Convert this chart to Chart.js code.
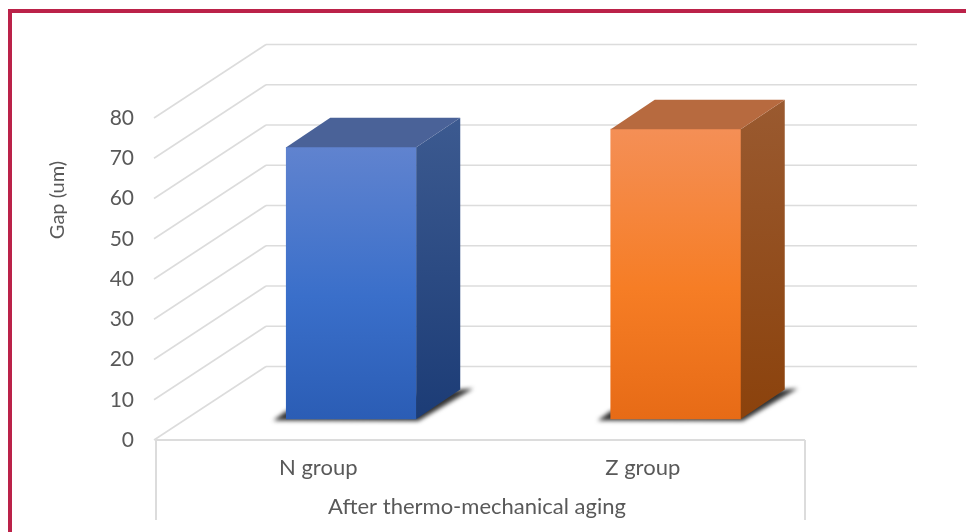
<!DOCTYPE html>
<html>
<head>
<meta charset="utf-8">
<title>Gap after thermo-mechanical aging</title>
<script src="https://cdn.jsdelivr.net/npm/chart.js@4"></script>
<style>
  html, body { margin: 0; background: #fff; overflow: hidden; }
  #wrap { position: relative; width: 966px; height: 532px; }
  #frame {
    position: absolute; left: 8px; top: 9px; right: 0; bottom: 0;
    border-left: 4px solid #bb2249; border-top: 4px solid #bb2249;
  }
  canvas { position: absolute; left: 0; top: 0; }
</style>
</head>
<body>
<div id="wrap">
  <div id="frame"></div>
  <canvas id="gapChart" width="966" height="532"></canvas>
</div>
<script>
const groups = ['N group', 'Z group'];
const gapValues = [67.5, 72];
const yTicks = [0, 10, 20, 30, 40, 50, 60, 70, 80];
const yTitle = 'Gap (um)';
const xTitle = 'After thermo-mechanical aging';

const FONT = 'Lato, sans-serif';
const TEXT = '#595959';
const GRID = '#dcdcdc';

// fake 3D: how far the back wall and the bars sit behind the axis plane
const WALL = { dx: 110, dy: -73.5, right: 917 };
const BAR_OFFSET = { dx: 33, dy: -21 };
const BAR_DEPTH = { dx: 44, dy: -29.5 };

const faces = [
  {
    front: ['#6083cf', '#3a6fca', '#2b5db5'],
    side: ['#3c5a90', '#1c3c76'],
    top: '#4a6298'
  },
  {
    front: ['#f48f56', '#f67d25', '#e76b16'],
    side: ['#9a5a30', '#8b420c'],
    top: '#b76a3f'
  }
];

function poly(ctx, pts) {
  ctx.beginPath();
  pts.forEach((p, i) => i ? ctx.lineTo(p[0], p[1]) : ctx.moveTo(p[0], p[1]));
  ctx.closePath();
}

function line(ctx, x1, y1, x2, y2) {
  ctx.beginPath();
  ctx.moveTo(x1, y1);
  ctx.lineTo(x2, y2);
  ctx.stroke();
}

const room3d = {
  id: 'room3d',
  // walls, floor and axis box behind the bars
  beforeDatasetsDraw(chart) {
    const ctx = chart.ctx;
    const { y } = chart.scales;
    const left = chart.chartArea.left;
    const right = chart.chartArea.right;
    ctx.save();
    ctx.strokeStyle = GRID;
    ctx.lineWidth = 1.6;
    yTicks.forEach((t) => {
      const py = y.getPixelForValue(t);
      line(ctx, left - 2, py, left + WALL.dx, py + WALL.dy);
      line(ctx, left + WALL.dx, py + WALL.dy, WALL.right, py + WALL.dy);
    });
    const y0 = y.getPixelForValue(0);
    ctx.lineWidth = 2;
    line(ctx, left, y0, right, y0);
    line(ctx, left, y0, left, 520);
    line(ctx, right, y0, right, 520);

    // soft shadows on the floor
    const bars = chart.getDatasetMeta(0).data;
    ctx.filter = 'blur(2px)';
    ctx.fillStyle = '#333';
    bars.forEach((bar) => {
      const l = bar.x - bar.width / 2 + BAR_OFFSET.dx;
      const r = bar.x + bar.width / 2 + BAR_OFFSET.dx;
      const b = bar.base + BAR_OFFSET.dy;
      poly(ctx, [
        [l - 13, b + 1.5], [l, b - 8], [r + BAR_DEPTH.dx, b + BAR_DEPTH.dy],
        [r + BAR_DEPTH.dx + 13, b + BAR_DEPTH.dy - 1], [r + 2, b + 2]
      ]);
      ctx.fill();
    });
    ctx.restore();

    // axis titles sit off-centre, so they are placed by hand
    ctx.save();
    ctx.fillStyle = TEXT;
    ctx.textAlign = 'center';
    ctx.textBaseline = 'middle';
    ctx.font = '22px ' + FONT;
    ctx.fillText(xTitle, 477, 507);
    ctx.font = '20px ' + FONT;
    ctx.translate(58, 200);
    ctx.rotate(-Math.PI / 2);
    ctx.fillText(yTitle, 0, 0);
    ctx.restore();
  },
  beforeDatasetDraw(chart) {
    chart.ctx.save();
    chart.ctx.translate(BAR_OFFSET.dx, BAR_OFFSET.dy);
  },
  // top and side faces built from each bar element
  afterDatasetDraw(chart) {
    const ctx = chart.ctx;
    chart.getDatasetMeta(0).data.forEach((bar, i) => {
      const l = bar.x - bar.width / 2;
      const r = bar.x + bar.width / 2;
      const { dx, dy } = BAR_DEPTH;
      const side = ctx.createLinearGradient(0, bar.y + dy, 0, bar.base);
      side.addColorStop(0, faces[i].side[0]);
      side.addColorStop(1, faces[i].side[1]);
      ctx.fillStyle = side;
      poly(ctx, [[r, bar.y], [r + dx, bar.y + dy], [r + dx, bar.base + dy], [r, bar.base]]);
      ctx.fill();
      ctx.fillStyle = faces[i].top;
      poly(ctx, [[l, bar.y], [l + dx, bar.y + dy], [r + dx, bar.y + dy], [r, bar.y]]);
      ctx.fill();
    });
    ctx.restore();
  }
};

function frontFill(context) {
  const chart = context.chart;
  const y = chart.scales.y;
  if (!y || !chart.chartArea || context.dataIndex === undefined) return faces[0].front[1];
  const colors = faces[context.dataIndex].front;
  const grad = chart.ctx.createLinearGradient(0, y.getPixelForValue(gapValues[context.dataIndex]), 0, y.getPixelForValue(0));
  grad.addColorStop(0, colors[0]);
  grad.addColorStop(0.55, colors[1]);
  grad.addColorStop(1, colors[2]);
  return grad;
}

new Chart(document.getElementById('gapChart').getContext('2d'), {
  type: 'bar',
  data: {
    labels: groups,
    datasets: [{
      data: gapValues,
      backgroundColor: frontFill,
      barThickness: 130,
      clip: false
    }]
  },
  options: {
    responsive: false,
    animation: false,
    layout: { padding: { top: 118, right: 161 } },
    plugins: { legend: { display: false }, tooltip: { enabled: false } },
    scales: {
      x: {
        afterFit: (scale) => { scale.height = 92; },
        grid: { display: false, drawTicks: false },
        border: { display: false },
        ticks: { color: TEXT, font: { family: FONT, size: 22 }, padding: 15, maxRotation: 0 }
      },
      y: {
        min: 0,
        max: 80,
        afterFit: (scale) => { scale.width = 156; },
        afterBuildTicks: (scale) => { scale.ticks = yTicks.map((v) => ({ value: v })); },
        grid: { display: false, drawTicks: false },
        border: { display: false },
        ticks: { color: TEXT, font: { family: FONT, size: 21 }, padding: 22 }
      }
    }
  },
  plugins: [room3d]
});
</script>
</body>
</html>
